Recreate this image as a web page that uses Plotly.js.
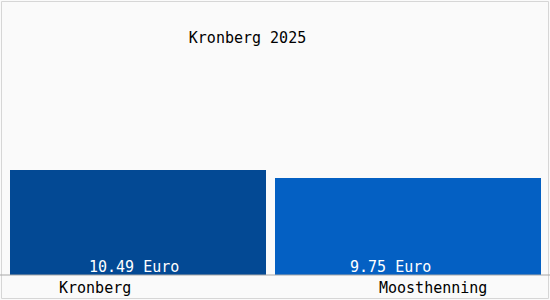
<!DOCTYPE html>
<html>
<head>
<meta charset="utf-8">
<script src="https://cdn.plot.ly/plotly-3.0.1.min.js"></script>
<style>html,body{margin:0;padding:0;background:#fafafa;}#chart{width:550px;height:300px;}</style>
</head>
<body>
<div id="chart"></div>
<script>
var categories = ["Kronberg", "Moosthenning"];
var values = [10.49, 9.75];
var valueLabels = ["10.49 Euro", "9.75 Euro"];
var titleText = "Kronberg 2025";

var FONT = "DejaVu Sans Mono, monospace";
var FS = 15;
var barColors = ["#034994", "#0460c3"];
var valueShift = [-4, -18];
var labelShift = [-43, 25];

var trace = {
  type: "bar",
  x: categories,
  y: values,
  width: [0.948, 0.985],
  marker: {color: barColors, line: {width: 0}},
  hoverinfo: "none"
};

var annotations = [];
categories.forEach(function(c, i) {
  annotations.push({
    x: c, y: 0, xref: "x", yref: "y", text: valueLabels[i], showarrow: false,
    xanchor: "center", yanchor: "middle", yshift: 8, xshift: valueShift[i],
    font: {family: FONT, size: FS, color: "#ffffff"}
  });
  annotations.push({
    x: c, y: 0, xref: "x", yref: "y", text: c, showarrow: false,
    xanchor: "center", yanchor: "middle", yshift: -13, xshift: labelShift[i],
    font: {family: FONT, size: FS, color: "#000000"}
  });
});

// plot area: x 3..543 px, y 75..275 px
function px2paperX(px) { return (px - 3) / 540; }
function px2paperY(py) { return (275 - py) / 200; }

var layout = {
  width: 550, height: 300,
  margin: {l: 3, r: 7, t: 75, b: 25, pad: 0},
  paper_bgcolor: "#fafafa",
  plot_bgcolor: "#fafafa",
  showlegend: false,
  bargap: 0,
  title: {text: titleText, x: 247.5/550, xanchor: "center", y: 1 - 38/300, yanchor: "middle",
          font: {family: FONT, size: FS, color: "#000000"}},
  xaxis: {showticklabels: false, ticks: "", showgrid: false, zeroline: false,
          showline: false, range: [-0.5, 1.5], fixedrange: true},
  yaxis: {range: [0, 20], showticklabels: false, ticks: "", showgrid: false, zeroline: false,
          showline: false, fixedrange: true},
  annotations: annotations,
  shapes: [
    {type: "rect", xref: "paper", yref: "paper", layer: "above",
     x0: px2paperX(1.5), x1: px2paperX(548.5), y0: px2paperY(298.5), y1: px2paperY(1.5),
     line: {width: 1, color: "#d6d6d6"}},
    {type: "line", xref: "paper", yref: "paper", layer: "above",
     x0: px2paperX(0), x1: px2paperX(550), y0: 0, y1: 0,
     line: {width: 1, color: "#a8a8a8"}}
  ]
};

Plotly.newPlot("chart", [trace], layout, {staticPlot: true, displayModeBar: false});
</script>
</body>
</html>
